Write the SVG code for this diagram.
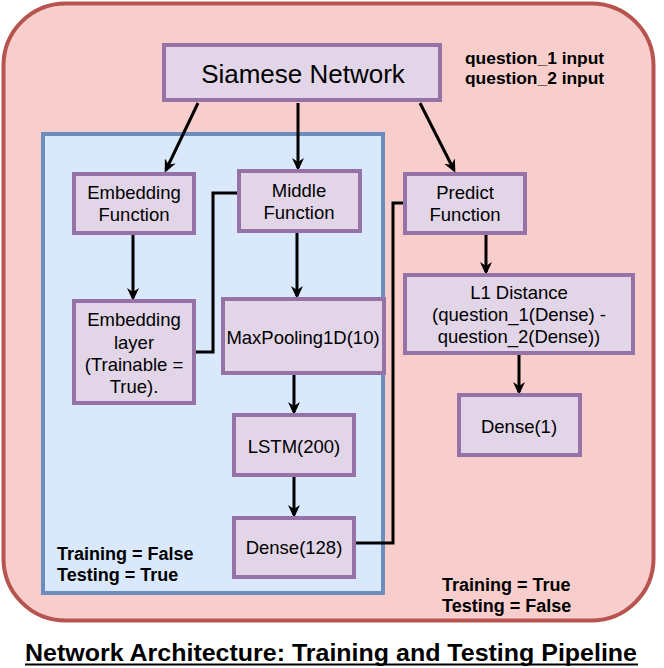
<svg xmlns="http://www.w3.org/2000/svg" width="664" height="668" viewBox="0 0 664 668">
<style>
.box{fill:#e1d5e7;stroke:#9673a6;stroke-width:4}
.t{font-family:"Liberation Sans",Arial,Helvetica,sans-serif;font-size:18.5px;fill:#000;text-anchor:middle}
.b{font-family:"Liberation Sans",Arial,Helvetica,sans-serif;font-size:18px;font-weight:bold;fill:#000}
.c{fill:none;stroke:#000;stroke-width:3}
</style>
<defs>
<marker id="arr" markerUnits="userSpaceOnUse" markerWidth="14" markerHeight="12" refX="10" refY="6" orient="auto">
<path d="M0,0 L13,6 L0,12 L4,6 z" fill="#000"/>
</marker>
</defs>
<rect x="3.5" y="3.5" width="650" height="617" rx="62" fill="#f8cecc" stroke="#b85450" stroke-width="4"/>
<rect x="43" y="134" width="340" height="459" fill="#dae8fc" stroke="#6c8ebf" stroke-width="4"/>

<g id="connectors">
<line class="c" x1="198" y1="103" x2="166" y2="170" marker-end="url(#arr)"/>
<line class="c" x1="298" y1="103" x2="298" y2="168" marker-end="url(#arr)"/>
<line class="c" x1="420" y1="103" x2="454" y2="170" marker-end="url(#arr)"/>
<line class="c" x1="133" y1="235" x2="133" y2="298" marker-end="url(#arr)"/>
<line class="c" x1="297" y1="233" x2="297" y2="296" marker-end="url(#arr)"/>
<line class="c" x1="294" y1="375" x2="294" y2="412" marker-end="url(#arr)"/>
<line class="c" x1="294" y1="477" x2="294" y2="515" marker-end="url(#arr)"/>
<line class="c" x1="486" y1="235" x2="486" y2="272" marker-end="url(#arr)"/>
<line class="c" x1="519" y1="355" x2="519" y2="392" marker-end="url(#arr)"/>
<polyline class="c" points="237,193 213,193 213,352 196,352"/>
<polyline class="c" points="356,543 393,543 393,203 403,203"/>
</g>

<g id="siamese">
<rect class="box" x="164" y="45" width="276" height="55"/>
<text class="t" x="303" y="83" style="font-size:26px">Siamese Network</text>
</g>
<g id="inputs-label">
<text class="b" x="465" y="64" style="font-size:17.4px">question_1 input</text>
<text class="b" x="465" y="84" style="font-size:17.4px">question_2 input</text>
</g>
<g id="embedding-function">
<rect class="box" x="74" y="174" width="120" height="59"/>
<text class="t" x="134" y="199">Embedding</text>
<text class="t" x="134" y="221">Function</text>
</g>
<g id="middle-function">
<rect class="box" x="239" y="171" width="121" height="60"/>
<text class="t" x="299" y="197">Middle</text>
<text class="t" x="299" y="219">Function</text>
</g>
<g id="embedding-layer">
<rect class="box" x="74" y="301" width="120" height="102"/>
<text class="t" x="134" y="326">Embedding</text>
<text class="t" x="134" y="349">layer</text>
<text class="t" x="134" y="371">(Trainable =</text>
<text class="t" x="134" y="393">True).</text>
</g>
<g id="maxpooling">
<rect class="box" x="223" y="299" width="161" height="74"/>
<text class="t" x="303" y="344">MaxPooling1D(10)</text>
</g>
<g id="lstm">
<rect class="box" x="234" y="415" width="120" height="60"/>
<text class="t" x="294" y="453">LSTM(200)</text>
</g>
<g id="dense128">
<rect class="box" x="234" y="518" width="120" height="59"/>
<text class="t" x="294" y="554">Dense(128)</text>
</g>
<g id="predict-function">
<rect class="box" x="405" y="174" width="120" height="59"/>
<text class="t" x="465" y="199">Predict</text>
<text class="t" x="465" y="221">Function</text>
</g>
<g id="l1-distance">
<rect class="box" x="405" y="275" width="228" height="78"/>
<text class="t" x="519" y="299">L1 Distance</text>
<text class="t" x="519" y="321">(question_1(Dense) -</text>
<text class="t" x="519" y="343">question_2(Dense))</text>
</g>
<g id="dense1">
<rect class="box" x="459" y="395" width="121" height="60"/>
<text class="t" x="519" y="433">Dense(1)</text>
</g>
<g id="labels">
<text class="b" x="57" y="560">Training = False</text>
<text class="b" x="57" y="581">Testing = True</text>
<text class="b" x="442" y="591">Training = True</text>
<text class="b" x="442" y="612">Testing = False</text>
</g>
<g id="title">
<text class="b" x="331" y="661" text-anchor="middle" style="font-size:23.5px" textLength="612" lengthAdjust="spacingAndGlyphs">Network Architecture: Training and Testing Pipeline</text>
<line x1="25" y1="664.5" x2="638" y2="664.5" stroke="#000" stroke-width="2"/>
</g>
</svg>
